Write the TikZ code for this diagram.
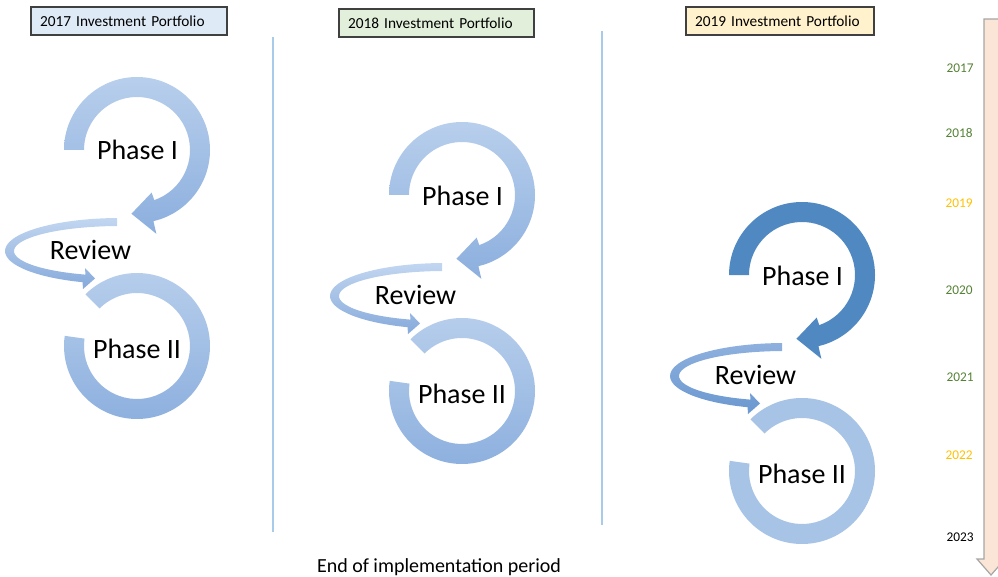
\documentclass[tikz,border=0pt]{standalone}
\usepackage{fontspec}
\setmainfont{Carlito}
\definecolor{hdrA}{HTML}{DEEAF6}
\definecolor{hdrB}{HTML}{E2EFDA}
\definecolor{hdrC}{HTML}{FFF2CC}
\definecolor{hdrline}{HTML}{404040}
\definecolor{ringtop}{HTML}{B8CFEC}
\definecolor{ringbot}{HTML}{8CAFDE}
\definecolor{revtop}{HTML}{C2D6F0}
\definecolor{revbot}{HTML}{86AADB}
\definecolor{darkring}{HTML}{5088C1}
\definecolor{lightring}{HTML}{A7C3E5}
\definecolor{revtopC}{HTML}{8EB0DE}
\definecolor{revbotC}{HTML}{6A98D0}
\definecolor{divider}{HTML}{A9CBEA}
\definecolor{tlfill}{HTML}{FBE5D6}
\definecolor{tlline}{HTML}{A6A6A6}
\definecolor{yrgreen}{HTML}{548235}
\definecolor{yrgold}{HTML}{FFC000}
\newcommand\cycleset[6]{%
  \begin{scope}[shift={(#1,#2)}]
    \begin{scope}[shift={(137,150)}]
      \path[#3] (180:73) arc[start angle=180,end angle=437,radius=73]
        -- (437:86) -- (455:64) -- (431:45) -- (431:53)
        arc[start angle=431,end angle=180,radius=53] -- cycle;
    \end{scope}
    \begin{scope}[shift={(120,251)}]
      \path[#4] (268.5:115 and 33)
        arc[start angle=268.5,end angle=109,x radius=115,y radius=33]
        -- (-37,38) -- (-25,27.5) -- (-35,17) -- (109:106 and 25)
        arc[start angle=109,end angle=268.5,x radius=106,y radius=25] -- cycle;
    \end{scope}
    \begin{scope}[shift={(137,346)}]
      \path[#5] (225:73) arc[start angle=225,end angle=548,radius=73]
        -- (548:53) arc[start angle=548,end angle=225,radius=53] -- cycle;
    \end{scope}
    \node[phl] (pone#6) at (137.5,160) {Phase I};
    \node[phl] (rev#6) at (90.5,259) {Review};
    \node[phl] (ptwo#6) at (137,358) {Phase II};
  \end{scope}}
\begin{document}
\begin{tikzpicture}[x=0.75pt,y=-0.75pt,
  hdr/.style={draw=hdrline,line width=0.9pt,inner xsep=6.75pt,inner ysep=0pt,
    minimum height=21pt,align=left,font=\fontsize{11.5}{13}\selectfont},
  phl/.style={anchor=base,inner sep=0pt,font=\fontsize{21}{24}\selectfont},
  yr/.style={inner sep=0pt,font=\fontsize{10}{12}\selectfont},
  ringsh/.style={top color=ringtop,bottom color=ringbot},
  revsh/.style={top color=revtop,bottom color=revbot},
  revshC/.style={top color=revtopC,bottom color=revbotC},
  divline/.style={draw=divider,line width=0.8pt}]
\useasboundingbox (0,0) rectangle (998,577);
% headers
\node[hdr,fill=hdrA,text width=133.5pt] (h17) at (129,21) {2017 Investment Portfolio};
\node[hdr,fill=hdrB,text width=132.75pt] (h18) at (436.5,23) {2018 Investment Portfolio};
\node[hdr,fill=hdrC,text width=127.5pt] (h19) at (780,21) {2019 Investment Portfolio};
% dividers
\draw[divline] (273,37) -- (273,532);
\draw[divline] (602,31) -- (602,525);
% cycles
\cycleset{0}{0}{ringsh}{revsh}{ringsh}{A}
\cycleset{325}{45}{ringsh}{revsh}{ringsh}{B}
\cycleset{665}{125}{fill=darkring}{revshC}{fill=lightring}{C}
% bottom text
\node[anchor=base,inner sep=0pt,font=\fontsize{15}{18}\selectfont] (endtxt) at (439,572) {End of implementation period};
% timeline
\draw[fill=tlfill,draw=tlline,line width=0.9pt] (984,19) -- (999,19) -- (999,559) -- (1005,559) -- (991,575) -- (977,559) -- (984,559) -- cycle;
\node[yr,text=yrgreen] (y17) at (960,68) {2017};
\node[yr,text=yrgreen] (y18) at (959,133) {2018};
\node[yr,text=yrgold] (y19) at (959,203) {2019};
\node[yr,text=yrgreen] (y20) at (959,290) {2020};
\node[yr,text=yrgreen] (y21) at (960,377) {2021};
\node[yr,text=yrgold] (y22) at (959,455) {2022};
\node[yr,text=black] (y23) at (960,537) {2023};
\end{tikzpicture}
\end{document}
